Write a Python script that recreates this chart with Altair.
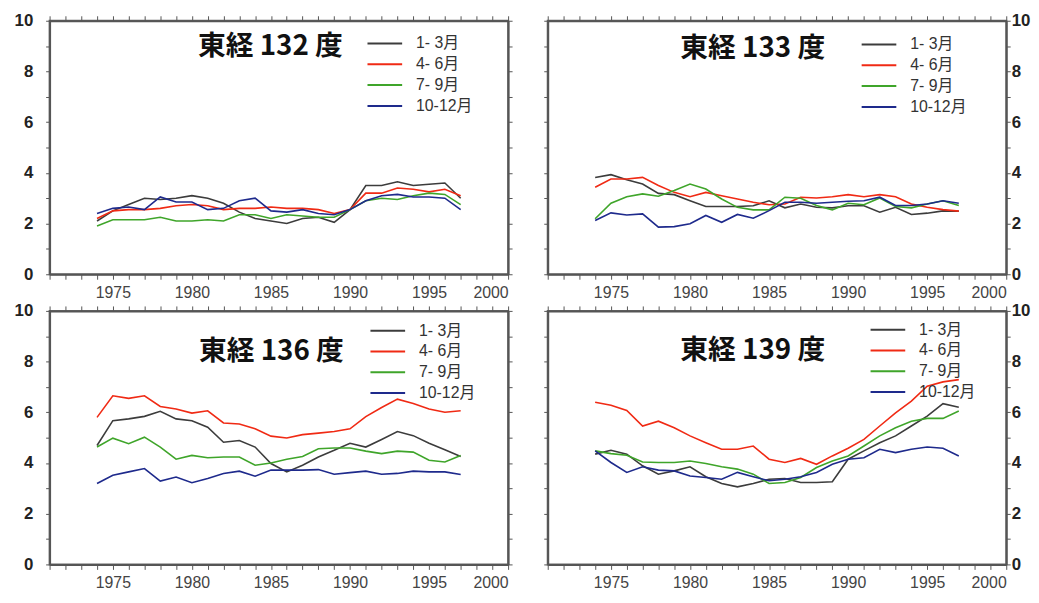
import altair as alt
import pandas as pd

years = list(range(1974, 1998))
seasons = ["1- 3月", "4- 6月", "7- 9月", "10-12月"]
colors = ["#3c3c3c", "#f02a14", "#3fa52a", "#1e2a8c"]
titles = ["東経 132 度", "東経 133 度", "東経 136 度", "東経 139 度"]

e132_q1 = [2.1, 2.5, 2.75, 3.0, 2.95, 3.0, 3.1, 3.0, 2.8, 2.45, 2.2, 2.1, 2.0, 2.2, 2.25, 2.05, 2.55, 3.5, 3.5, 3.65, 3.5, 3.55, 3.6, 3.0]
e132_q2 = [2.2, 2.5, 2.55, 2.55, 2.6, 2.7, 2.75, 2.7, 2.55, 2.6, 2.6, 2.65, 2.6, 2.6, 2.55, 2.4, 2.55, 3.2, 3.2, 3.4, 3.35, 3.25, 3.35, 3.1]
e132_q3 = [1.9, 2.15, 2.15, 2.15, 2.25, 2.1, 2.1, 2.15, 2.1, 2.35, 2.35, 2.2, 2.35, 2.3, 2.25, 2.25, 2.55, 2.9, 3.0, 2.95, 3.1, 3.2, 3.15, 2.75]
e132_q4 = [2.4, 2.6, 2.65, 2.55, 3.05, 2.85, 2.85, 2.55, 2.6, 2.9, 3.0, 2.5, 2.45, 2.55, 2.4, 2.35, 2.55, 2.9, 3.1, 3.15, 3.05, 3.05, 3.0, 2.55]

e133_q1 = [3.82, 3.93, 3.73, 3.56, 3.19, 3.14, 2.9, 2.67, 2.67, 2.67, 2.7, 2.9, 2.62, 2.77, 2.64, 2.62, 2.7, 2.7, 2.45, 2.64, 2.36, 2.41, 2.5, 2.49]
e133_q2 = [3.43, 3.76, 3.76, 3.82, 3.5, 3.23, 3.06, 3.23, 3.1, 2.97, 2.84, 2.74, 2.77, 3.04, 3.01, 3.06, 3.14, 3.06, 3.14, 3.06, 2.77, 2.64, 2.55, 2.49]
e133_q3 = [2.19, 2.8, 3.06, 3.17, 3.08, 3.3, 3.56, 3.36, 2.97, 2.64, 2.54, 2.54, 3.04, 3.0, 2.71, 2.54, 2.8, 2.74, 3.01, 2.67, 2.62, 2.77, 2.9, 2.71]
e133_q4 = [2.12, 2.42, 2.34, 2.38, 1.86, 1.88, 1.99, 2.32, 2.05, 2.36, 2.21, 2.51, 2.84, 2.84, 2.8, 2.84, 2.88, 2.9, 3.04, 2.71, 2.71, 2.77, 2.9, 2.8]

e136_q1 = [4.69, 5.67, 5.74, 5.84, 6.04, 5.74, 5.67, 5.41, 4.82, 4.89, 4.63, 3.98, 3.65, 3.91, 4.24, 4.5, 4.78, 4.63, 4.93, 5.24, 5.08, 4.78, 4.52, 4.26]
e136_q2 = [5.8, 6.65, 6.55, 6.65, 6.23, 6.13, 5.97, 6.06, 5.58, 5.54, 5.35, 5.06, 4.99, 5.12, 5.18, 5.24, 5.35, 5.83, 6.19, 6.52, 6.35, 6.13, 6.0, 6.06]
e136_q3 = [4.63, 4.98, 4.76, 5.02, 4.63, 4.15, 4.3, 4.21, 4.24, 4.24, 3.91, 4.0, 4.15, 4.26, 4.56, 4.59, 4.59, 4.47, 4.37, 4.47, 4.43, 4.11, 4.04, 4.3]
e136_q4 = [3.19, 3.52, 3.65, 3.78, 3.29, 3.45, 3.22, 3.39, 3.59, 3.68, 3.48, 3.72, 3.72, 3.72, 3.74, 3.56, 3.62, 3.68, 3.56, 3.59, 3.68, 3.65, 3.65, 3.55]

e139_q1 = [4.35, 4.5, 4.35, 3.89, 3.56, 3.69, 3.85, 3.46, 3.19, 3.06, 3.19, 3.36, 3.39, 3.23, 3.23, 3.26, 4.15, 4.48, 4.8, 5.07, 5.46, 5.85, 6.34, 6.2]
e139_q2 = [6.4, 6.28, 6.07, 5.46, 5.65, 5.39, 5.07, 4.8, 4.54, 4.54, 4.67, 4.15, 4.02, 4.18, 3.95, 4.28, 4.58, 4.93, 5.46, 5.98, 6.44, 7.03, 7.2, 7.29]
e139_q3 = [4.48, 4.37, 4.31, 4.04, 4.02, 4.02, 4.08, 3.98, 3.85, 3.76, 3.56, 3.19, 3.23, 3.43, 3.82, 4.08, 4.28, 4.67, 5.07, 5.39, 5.65, 5.76, 5.76, 6.05]
e139_q4 = [4.48, 4.02, 3.63, 3.85, 3.72, 3.69, 3.49, 3.43, 3.36, 3.63, 3.46, 3.3, 3.36, 3.46, 3.63, 3.95, 4.15, 4.21, 4.54, 4.41, 4.54, 4.63, 4.58, 4.28]

x_ticks = list(range(1971, 2001))
y_ticks = list(range(0, 11))

FONT = "Liberation Sans, Arial, Noto Sans CJK JP"
W, H = 463, 256


def make_df(series):
    rows = []
    for s, vals in zip(seasons, series):
        for yr, v in zip(years, vals):
            rows.append({"year": yr, "value": v, "season": s})
    return pd.DataFrame(rows)


def panel(series, title, y_orient, legend_xy, title_xy):
    df = make_df(series)
    xscale = alt.Scale(domain=[1971, 2000], nice=False, zero=False)
    yscale = alt.Scale(domain=[0, 10], nice=False)
    mirror_y = "left" if y_orient == "right" else "right"

    main = alt.Chart(df).mark_line(strokeWidth=1.6).encode(
        x=alt.X("year:Q", scale=xscale, axis=alt.Axis(
            orient="bottom", values=x_ticks, format="d",
            labelExpr="datum.value % 5 === 0 ? datum.label : ''",
            title=None, grid=False, tickSize=5, labelPadding=5,
            labelFont=FONT, labelFontSize=16, labelColor="#444",
            tickColor="#555", domainColor="#555", domainWidth=2)),
        y=alt.Y("value:Q", scale=yscale, axis=alt.Axis(
            orient=y_orient, values=y_ticks,
            labelExpr="datum.value % 2 === 0 ? datum.label : ''",
            title=None, grid=False, tickSize=4,
            labelPadding=13 if y_orient == "left" else 1,
            labelFont=FONT, labelFontSize=17, labelFontWeight="bold",
            labelColor="#222", tickColor="#555", domainColor="#555", domainWidth=2)),
        color=alt.Color("season:N", scale=alt.Scale(domain=seasons, range=colors),
                        sort=seasons,
                        legend=alt.Legend(
                            title=None, orient="none",
                            legendX=legend_xy[0], legendY=legend_xy[1],
                            symbolType="M-6,0H1", symbolSize=100, symbolStrokeWidth=2,
                            labelFont=FONT, labelFontSize=16, labelColor="#333",
                            labelOffset=11, rowPadding=5, padding=0,
                            direction="vertical")),
        detail="season:N",
    )

    mirror = alt.Chart(df).mark_line(opacity=0).encode(
        x=alt.X("year:Q", scale=xscale, axis=alt.Axis(
            orient="top", values=x_ticks, labels=False, title=None, grid=False,
            tickSize=5, tickColor="#555", domainColor="#555", domainWidth=2)),
        y=alt.Y("value:Q", scale=yscale, axis=alt.Axis(
            orient=mirror_y, values=y_ticks, labels=False, title=None, grid=False,
            tickSize=4, tickColor="#555", domainColor="#555", domainWidth=2)),
        detail="season:N",
    )

    ttl = alt.Chart(pd.DataFrame({"t": [title]})).mark_text(
        font="Noto Sans CJK JP", fontSize=28, fontWeight="bold", color="#111",
        align="center", baseline="middle",
    ).encode(x=alt.value(title_xy[0]), y=alt.value(title_xy[1]), text="t:N")

    return alt.layer(mirror, main, ttl).resolve_axis(
        x="independent", y="independent"
    ).properties(width=W, height=H)


p132 = panel([e132_q1, e132_q2, e132_q3, e132_q4], titles[0], "left", (343, 15), (223, 27))
p133 = panel([e133_q1, e133_q2, e133_q3, e133_q4], titles[1], "right", (339, 16), (207, 29))
p136 = panel([e136_q1, e136_q2, e136_q3, e136_q4], titles[2], "left", (346, 12), (224, 42))
p139 = panel([e139_q1, e139_q2, e139_q3, e139_q4], titles[3], "right", (348, 11), (207, 41))

chart = alt.concat(
    p132, p133, p136, p139, columns=2,
    spacing={"row": 37, "column": 40}, bounds="flush",
).resolve_scale(color="independent").resolve_legend(color="independent").properties(
    padding={"left": 5, "top": 0, "right": 0, "bottom": 0},
    background="white",
).configure_view(stroke="#666", strokeWidth=2)

chart.save("out.html", embed_options={"renderer": "svg", "actions": False})
